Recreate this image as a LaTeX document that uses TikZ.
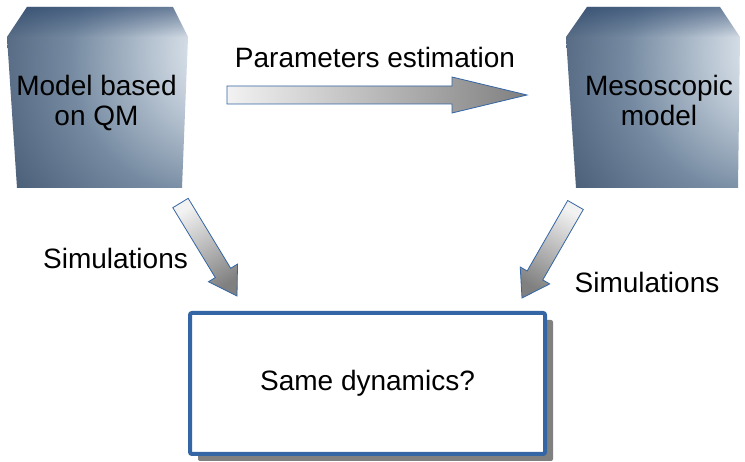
\documentclass[tikz,border=0pt]{standalone}
\usepackage{fontspec}
\setmainfont{Liberation Sans}
\usetikzlibrary{calc,shadows,fadings}
\definecolor{cubelight}{RGB}{244,246,249}
\definecolor{cubelighttwo}{RGB}{220,228,236}
\definecolor{cubemid}{RGB}{118,139,162}
\definecolor{cubedarkone}{RGB}{62,82,108}
\definecolor{cubedark}{RGB}{44,62,88}
\definecolor{cubetop}{RGB}{36,64,104}
\definecolor{lineblue}{RGB}{52,101,164}
\definecolor{arrlight}{RGB}{242,242,242}
\definecolor{arrdark}{RGB}{128,128,128}
\definecolor{shadowgray}{RGB}{128,128,128}
\pgfdeclareradialshading{cubeshade}{\pgfpoint{47bp}{16bp}}{%
  color(0bp)=(cubelight); color(13bp)=(cubelighttwo); color(37bp)=(cubemid);
  color(60bp)=(cubedarkone); color(80bp)=(cubedark); color(100bp)=(cubedark)}
\newcommand{\blockarrow}[5]{% tail, tip, head length, head half width, shading angle
  \coordinate (#1hb) at ($(#2)!#3!(#1)$);
  \path[blockarr, shading angle=#5]
    ($(#1)!9pt!90:(#2)$) -- ($(#1hb)!9pt!90:(#2)$) -- ($(#1hb)!#4!90:(#2)$) --
    (#2) -- ($(#1hb)!#4!-90:(#2)$) -- ($(#1hb)!9pt!-90:(#2)$) -- ($(#1)!9pt!-90:(#2)$) -- cycle;
}
\tikzset{
  lbl/.style={inner sep=0pt, font=\fontsize{28}{30}\selectfont, text=black},
  cube/.style={shading=cubeshade},
  cubetopface/.style={fill=cubetop, fill opacity=0.55, path fading=south},
  blockarr/.style={draw=lineblue, line width=0.8pt, line join=miter,
    left color=arrlight, right color=arrdark},
  samebox/.style={draw=lineblue, line width=4pt, rounded corners=2pt, fill=white,
    minimum width=355pt, minimum height=141pt, inner sep=0pt,
    font=\fontsize{28}{30}\selectfont,
    drop shadow={shadow xshift=8pt, shadow yshift=-7pt, fill=shadowgray, opacity=1}},
}
\begin{document}
\begin{tikzpicture}[x=1pt,y=-1pt]
\useasboundingbox[fill=white] (0,0) rectangle (745,462);
% left cube
\path[cube] (27,7) -- (173,7) -- (188,37) -- (182,188) -- (17,188) -- (7,37) -- cycle;
\fill[cubetopface] (27,7) -- (173,7) -- (188,37) -- (7,37) -- cycle;
\node[lbl, align=center, anchor=base] (qm) at (96.5,126) {Model based\\on QM};
% right cube
\path[cube] (587,7) -- (720,7) -- (740,37) -- (738,188) -- (576,188) -- (566,37) -- cycle;
\fill[cubetopface] (587,7) -- (720,7) -- (740,37) -- (566,37) -- cycle;
\node[lbl, align=center, anchor=base] (meso) at (659,126) {Mesoscopic\\model};
% bottom box
\node[samebox] (same) at (367.5,383.5) {Same dynamics?};
% labels
\node[lbl, anchor=base] (param) at (375,68) {Parameters estimation};
\node[lbl, anchor=base] (simL) at (115.5,269) {Simulations};
\node[lbl, anchor=base] (simR) at (647,293) {Simulations};
% block arrows
\coordinate (hT) at (227,95);
\coordinate (hP) at (527,95);
\blockarrow{hT}{hP}{75pt}{18pt}{90}
\coordinate (lT) at (180.5,203);
\coordinate (lP) at (237,296);
\blockarrow{lT}{lP}{27pt}{17pt}{31}
\coordinate (rT) at (575.5,205);
\coordinate (rP) at (522,298);
\blockarrow{rT}{rP}{26pt}{17pt}{-30}
\end{tikzpicture}
\end{document}
